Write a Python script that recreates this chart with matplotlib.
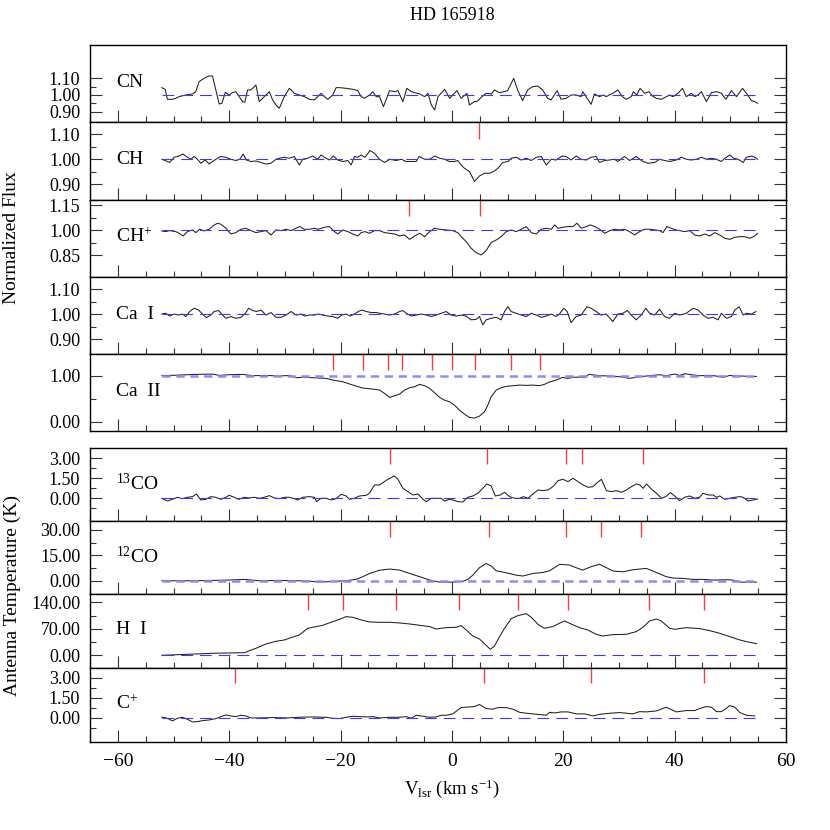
import matplotlib
matplotlib.use('Agg')
import matplotlib.pyplot as plt
from matplotlib.ticker import FixedLocator, FormatStrFormatter, MultipleLocator

plt.rcParams['font.family'] = ['Liberation Serif', 'DejaVu Serif']
plt.rcParams['mathtext.fontset'] = 'custom'
plt.rcParams['mathtext.rm'] = 'Liberation Serif'
plt.rcParams['mathtext.it'] = 'Liberation Serif:italic'
plt.rcParams['lines.scale_dashes'] = False

# ---- data (velocity in km/s) ----
cn_v = [-52.1, -51.5, -51.1, -50.2, -49.6, -49.0, -47.8, -46.6, -46.0, -45.4, -44.8, -44.2, -43.6, -43.0,
        -42.4, -41.8, -41.3, -40.7, -40.0, -39.4, -38.8, -38.2, -37.6, -37.2, -36.7, -36.1, -35.2, -34.6,
        -33.7, -32.8, -32.2, -31.6, -31.0, -30.1, -29.2, -28.3, -27.4, -26.5, -25.6, -24.7, -24.1, -23.5,
        -22.9, -22.3, -21.4, -20.8, -20.2, -19.0, -17.8, -16.9, -16.3, -15.7, -14.8, -14.2, -13.6, -13.0,
        -12.3, -11.2, -10.3, -9.7, -8.8, -8.1, -7.3, -5.8, -4.9, -4.3, -3.7, -3.1, -2.5, -1.3, -0.4, 0.15,
        0.9, 1.65, 2.7, 3.15, 4.05, 4.65, 5.25, 6.15, 7.05, 7.65, 8.55, 9.4, 10.0, 11.1, 11.8, 12.7, 13.6,
        14.5, 15.4, 16.3, 17.2, 17.8, 18.9, 19.6, 20.5, 21.4, 22.3, 23.2, 23.5, 24.4, 25.0, 25.6, 26.5,
        27.2, 27.7, 28.9, 29.8, 30.6, 31.3, 32.2, 32.6, 33.2, 33.8, 34.6, 35.4, 36.0, 36.7, 37.6, 38.5,
        39.1, 39.7, 40.6, 41.4, 42.1, 43.0, 43.6, 44.2, 44.8, 45.7, 46.6, 47.5, 48.4, 49.2, 50.2, 51.1,
        52.2, 52.9, 53.8, 54.4, 54.9]
cn_f = [1.044, 1.034, 0.974, 0.974, 0.98, 0.99, 1.0, 1.006, 1.02, 1.08, 1.094, 1.106, 1.114, 1.114,
        1.03, 0.946, 0.95, 1.016, 1.0, 1.014, 1.02, 0.99, 0.96, 0.956, 1.03, 1.03, 1.06, 0.96,
        0.99, 1.02, 0.97, 0.94, 0.92, 0.99, 1.04, 1.01, 1.0, 0.99, 0.974, 0.97, 0.99, 1.01,
        0.99, 0.974, 1.0, 1.044, 1.044, 1.04, 1.034, 1.026, 0.99, 0.98, 1.0, 1.02, 0.99, 0.99,
        0.93, 1.026, 1.02, 1.026, 0.96, 1.04, 1.02, 1.006, 0.99, 1.01, 0.94, 0.91, 0.99, 1.034, 0.98, 1.0,
        1.026, 0.98, 1.01, 0.94, 0.96, 0.964, 0.986, 1.01, 1.006, 1.03, 1.014, 1.02, 1.026, 1.10, 1.03, 0.966, 1.03,
        1.05, 1.054, 1.03, 0.98, 0.97, 1.026, 0.974, 0.98, 1.0, 1.0, 0.99, 1.02, 0.974, 0.944, 1.006, 0.99,
        1.0, 0.99, 1.01, 1.03, 0.99, 0.974, 0.99, 1.02, 1.0, 1.04, 1.01, 1.02, 0.994, 0.98, 0.974, 0.99,
        1.0, 0.99, 1.01, 1.04, 0.99, 1.01, 0.99, 1.0, 1.02, 0.96, 1.014, 1.02, 1.01, 0.974, 1.026, 0.99,
        1.04, 1.01, 0.966, 0.96, 0.95]

ch_v = [-52.1, -51.3, -50.7, -49.9, -49.0, -48.3, -47.7, -46.9, -46.3, -45.7, -45.1, -44.3, -43.6, -43.0,
        -42.1, -41.5, -40.6, -39.7, -38.8, -38.1, -37.5, -36.9, -36.1, -35.2, -34.3, -33.4, -32.5, -31.6,
        -31.0, -30.1, -29.2, -28.3, -27.4, -26.8, -25.9, -25.0, -24.1, -23.5, -22.6, -22.0, -21.3, -20.5,
        -19.6, -18.7, -18.1, -17.5, -16.9, -16.3, -15.6, -14.7, -13.9, -13.0, -12.1, -11.2, -10.0, -9.1,
        -8.2, -7.3, -6.4, -5.9, -4.9, -4.0, -3.1, -2.2, -1.3, -0.45, 0.45, 1.05, 1.65, 2.25, 3.15, 4.05,
        4.95, 5.85, 6.75, 7.65, 8.25, 9.15, 10.05, 10.65, 11.55, 12.45, 13.35, 14.25, 15.15, 16.05, 16.95,
        17.85, 18.7, 19.8, 20.5, 21.4, 22.3, 23.2, 24.1, 25.0, 25.9, 26.5, 27.4, 28.3, 29.2, 29.8, 31.0,
        31.9, 33.1, 34.3, 35.2, 36.4, 37.3, 38.2, 39.1, 40.3, 41.2, 42.1, 43.0, 43.9, 44.8, 45.7, 46.6,
        47.5, 48.4, 49.0, 49.9, 50.6, 51.4, 52.3, 52.9, 53.8, 54.4, 54.9]
ch_f = [1.0, 0.993, 0.987, 1.008, 1.013, 1.021, 1.011, 1.0, 1.011, 1.0, 0.984, 0.997, 0.981, 0.991,
        1.004, 1.011, 1.008, 1.0, 0.995, 1.0, 1.021, 0.997, 0.991, 0.993, 0.987, 0.981, 0.984, 1.0,
        1.004, 1.008, 1.004, 1.011, 0.977, 1.0, 1.004, 1.013, 1.0, 1.017, 1.004, 0.997, 1.013, 0.997,
        0.991, 0.995, 0.977, 1.011, 1.008, 1.017, 1.008, 1.035, 1.024, 1.0, 0.987, 1.0, 0.995, 1.0,
        0.991, 0.991, 0.991, 1.011, 1.0, 1.0, 1.013, 1.004, 1.0, 0.991, 0.991, 0.995, 0.977, 0.964, 0.951, 0.911,
        0.933, 0.944, 0.944, 0.953, 0.964, 0.987, 0.991, 1.004, 1.008, 0.997, 1.004, 0.995, 1.008, 1.011, 0.977,
        1.0, 0.997, 1.013, 1.011, 0.997, 1.013, 1.0, 0.997, 1.008, 1.011, 0.987, 0.995, 0.997, 1.0, 0.991, 1.011,
        0.995, 1.011, 0.991, 0.984, 0.987, 1.0, 0.995, 0.991, 0.997, 1.008, 1.0, 0.997, 1.0, 1.008, 1.0, 1.004,
        1.0, 0.991, 1.004, 1.017, 1.004, 1.0, 0.987, 1.008, 1.013, 1.008, 1.0]

chp_v = [-52.1, -51.4, -50.7, -49.6, -49.0, -48.3, -47.5, -46.6, -46.0, -45.3, -44.5, -43.6, -42.9, -42.1,
         -41.5, -40.6, -39.7, -38.8, -37.9, -37.0, -36.1, -35.2, -34.3, -33.4, -32.5, -31.6, -30.7, -29.8,
         -28.9, -28.0, -27.3, -26.5, -25.6, -24.7, -24.0, -22.9, -22.0, -21.1, -20.5, -19.6, -18.7, -17.8,
         -16.9, -16.3, -15.6, -14.8, -13.9, -13.0, -12.1, -11.2, -10.3, -9.4, -8.5, -7.6, -6.7, -5.8, -4.9,
         -4.0, -3.1, -2.2, -1.05, 0.15, 1.05, 1.65, 2.55, 3.45, 4.35, 5.25, 6.15, 7.05, 7.95, 8.85, 9.75,
         10.65, 11.55, 12.45, 13.35, 14.25, 15.15, 16.05, 16.95, 17.85, 18.45, 19.05, 19.95, 20.85, 21.75,
         22.45, 23.25, 24.15, 24.85, 25.65, 26.55, 27.45, 28.35, 29.25, 30.1, 31.0, 31.9, 32.8, 33.7, 34.6,
         35.5, 36.4, 37.3, 37.9, 38.6, 39.4, 40.2, 40.9, 41.8, 42.7, 43.6, 44.5, 45.4, 46.3, 47.2, 48.1,
         49.0, 49.9, 50.8, 51.7, 52.6, 53.5, 54.4, 54.9]
chp_f = [0.996, 0.992, 0.998, 0.992, 0.982, 0.966, 0.992, 1.002, 0.986, 1.006, 0.996, 1.006, 1.026, 1.042,
         1.036, 1.012, 0.978, 0.986, 1.006, 1.012, 0.998, 0.986, 0.992, 0.998, 0.972, 1.002, 0.998, 1.006,
         0.998, 1.012, 1.022, 1.006, 1.006, 1.012, 1.006, 1.018, 1.022, 0.992, 0.978, 1.002, 0.992, 0.978,
         0.966, 0.986, 0.992, 0.982, 0.998, 0.998, 0.986, 0.982, 0.978, 0.966, 0.972, 0.946, 0.966, 0.982, 0.962,
         0.992, 1.012, 1.006, 1.002, 0.998, 0.986, 0.962, 0.933, 0.893, 0.867, 0.853, 0.879, 0.927, 0.942, 0.962, 0.992,
         1.002, 0.992, 1.006, 1.022, 0.986, 0.978, 1.006, 1.012, 1.006, 1.032, 1.012, 1.018, 1.022, 1.022,
         1.042, 1.012, 1.022, 1.032, 1.022, 1.006, 0.982, 0.998, 1.006, 1.002, 1.006, 0.992, 0.972, 0.992, 1.006,
         1.006, 1.002, 0.998, 0.986, 1.022, 1.012, 1.002, 0.998, 0.992, 0.998, 0.972, 0.966, 0.978, 0.966, 0.986, 0.972,
         0.952, 0.946, 0.958, 0.962, 0.962, 0.952, 0.966, 0.982]

cai_v = [-52.1, -51.4, -50.7, -49.9, -49.1, -48.4, -47.8, -47.1, -46.3, -45.5, -44.8, -44.1, -43.3, -42.7,
         -41.9, -41.2, -40.6, -39.7, -38.8, -37.9, -37.1, -36.5, -35.8, -35.1, -34.3, -33.4, -32.5, -31.6,
         -30.7, -29.8, -28.9, -28.0, -27.1, -26.4, -25.6, -24.7, -24.0, -23.2, -22.3, -21.4, -20.5, -19.8,
         -19.0, -18.3, -17.5, -16.8, -16.2, -15.4, -14.5, -13.6, -13.0, -12.1, -11.2, -10.3, -9.4, -8.8,
         -8.2, -7.3, -6.4, -5.5, -4.6, -3.7, -2.8, -1.9, -1.05, -0.15, 0.75, 1.65, 2.55, 3.45, 4.35, 4.95,
         5.55, 6.15, 7.05, 7.95, 8.85, 9.45, 10.05, 10.65, 11.55, 12.45, 13.35, 14.25, 15.15, 16.05, 16.95,
         17.85, 18.7, 19.3, 20.1, 20.7, 21.4, 22.3, 23.2, 24.25, 25.0, 25.9, 26.8, 27.7, 28.9, 29.8, 30.7,
         31.5, 32.2, 33.1, 34.0, 34.8, 35.5, 36.4, 37.3, 38.2, 39.1, 40.0, 40.9, 42.1, 43.3, 44.2, 45.1,
         46.0, 46.9, 47.8, 48.4, 49.3, 50.2, 50.8, 51.6, 52.3, 52.9, 53.8, 54.6]
cai_f = [1.001, 1.004, 0.993, 1.001, 0.997, 1.001, 0.991, 1.011, 1.024, 1.017, 1.001, 0.987, 0.997, 1.011,
         1.015, 0.997, 0.984, 0.991, 0.984, 0.988, 1.004, 1.024, 1.015, 1.011, 1.017, 0.997, 1.007, 0.988,
         0.988, 0.997, 1.011, 0.997, 1.001, 0.993, 0.997, 0.997, 1.001, 0.997, 0.993, 0.991, 0.984, 0.997,
         1.001, 0.993, 1.001, 1.011, 1.017, 1.011, 1.007, 1.007, 1.004, 1.001, 0.997, 1.001, 1.011, 1.015,
         1.004, 0.993, 0.997, 1.001, 0.997, 0.991, 0.997, 1.004, 1.011, 0.997, 0.993, 0.997, 0.993, 0.978, 0.980, 0.991,
         0.958, 0.978, 0.984, 0.988, 0.978, 1.011, 1.030, 1.011, 1.004, 0.997, 0.991, 1.004, 0.997, 0.988, 0.993,
         1.001, 0.991, 1.001, 1.024, 1.011, 0.967, 0.991, 0.997, 1.030, 1.024, 1.011, 0.997, 1.001, 0.971, 1.001, 1.004,
         1.015, 0.997, 0.978, 0.997, 1.024, 1.004, 0.997, 1.020, 0.991, 0.984, 1.004, 0.997, 1.004, 1.024, 1.017, 0.997,
         0.984, 0.988, 0.978, 1.004, 0.984, 0.991, 1.017, 1.030, 0.997, 1.004, 1.001, 1.011]

caii_v = [-52.1, -49.0, -46.0, -43.0, -41.8, -40.0, -37.6, -35.8, -33.4, -31.0, -29.2, -28.0, -26.8, -25.0,
          -22.6, -21.4, -19.6, -17.8, -16.0, -14.2, -13.0, -12.1, -11.2, -10.3, -9.4, -8.5, -7.6, -6.7, -5.8,
          -4.9, -4.0, -3.1, -2.2, -1.35, -0.45, 0.45, 1.35, 2.25, 3.15, 4.05, 4.95, 5.85, 6.45, 7.05, 7.95,
          8.85, 9.75, 10.95, 12.15, 13.35, 14.55, 15.75, 16.6, 17.5, 18.7, 19.9, 20.8, 21.7, 22.9, 23.8, 24.6,
          25.6, 26.8, 28.3, 30.1, 31.9, 33.7, 35.5, 37.3, 38.5, 40.0, 40.9, 41.8, 43.0, 44.5, 46.3, 47.5,
          48.7, 49.9, 51.1, 52.3, 53.5, 54.7]
caii_f = [1.0, 1.014, 1.029, 1.036, 1.007, 1.022, 1.029, 1.0, 1.007, 0.993, 1.007, 0.957, 0.964, 0.957,
          0.942, 0.906, 0.870, 0.797, 0.732, 0.710, 0.688, 0.616, 0.529, 0.565, 0.601, 0.688, 0.739, 0.761, 0.812,
          0.783, 0.725, 0.630, 0.529, 0.471, 0.435, 0.362, 0.254, 0.167, 0.094, 0.080, 0.123, 0.217, 0.362, 0.543, 0.688,
          0.739, 0.768, 0.783, 0.797, 0.790, 0.797, 0.783, 0.812, 0.862, 0.906, 0.964, 0.942, 0.964, 0.971, 0.957, 1.029,
          1.014, 1.0, 0.993, 0.978, 0.942, 0.978, 1.0, 1.022, 1.0, 1.036, 1.007, 1.043, 1.022, 1.0, 1.007, 0.993,
          0.964, 1.007, 0.993, 0.993, 0.978, 0.986]

co13_v = [-52.1, -51.1, -50.2, -49.3, -48.4, -47.5, -46.6, -45.9, -45.1, -44.2, -43.3, -42.4, -41.5, -40.6,
          -40.0, -39.1, -38.3, -37.3, -36.4, -35.5, -34.6, -33.7, -32.8, -31.9, -31.0, -30.1, -29.2, -28.3,
          -27.7, -26.8, -25.6, -24.7, -24.3, -23.5, -22.6, -21.7, -20.8, -19.9, -19.0, -18.4, -17.5, -16.6,
          -15.4, -14.8, -13.9, -13.0, -12.4, -11.5, -10.3, -9.7, -8.8, -7.9, -7.0, -6.1, -5.2, -4.6, -3.7,
          -2.8, -1.95, -1.35, -0.45, 0.15, 1.05, 1.95, 2.85, 3.75, 4.65, 5.55, 6.25, 7.05, 7.8, 8.7, 9.45,
          10.35, 11.25, 12.15, 12.85, 13.65, 14.55, 15.45, 16.35, 17.25, 18.15, 19.05, 19.95, 20.85, 21.75,
          22.65, 23.55, 24.45, 25.35, 25.95, 26.85, 27.75, 28.65, 29.55, 30.45, 31.35, 32.25, 33.15, 33.75,
          34.35, 34.95, 35.85, 36.75, 37.65, 38.4, 39.25, 40.0, 40.9, 41.8, 42.7, 43.6, 44.5, 45.1, 46.0,
          46.9, 47.5, 48.1, 49.0, 49.9, 50.8, 51.7, 52.3, 53.2, 54.1, 54.9]
co13_t = [0.0, -0.2, -0.075, 0.075, -0.025, 0.075, 0.125, 0.325, -0.125, -0.075, 0.125, 0.075, -0.075, 0.075,
          0.225, 0.075, -0.075, 0.075, 0.025, 0.075, 0.0, 0.075, 0.2, 0.025, -0.025, 0.075, 0.075, -0.025,
          -0.125, 0.075, 0.125, 0.075, -0.25, 0.0, 0.0, -0.125, -0.025, 0.3, 0.175, -0.075, 0.0, 0.175,
          0.225, 0.375, 1.0, 1.0, 1.175, 1.425, 1.675, 1.425, 0.75, 0.5, 0.25, 0.325, -0.075, -0.25, 0.0,
          0.0, 0.0, -0.2, -0.075, -0.125, -0.25, -0.275, 0.075, 0.175, 0.375, 0.75, 1.075, 0.925, 0.175, 0.25, 0.45,
          0.125, 0.0, 0.0, 0.125, 0.0, 0.325, 0.625, 0.575, 0.625, 0.875, 1.325, 1.425, 1.25, 1.5,
          1.25, 1.0, 0.825, 0.875, 1.125, 1.425, 0.575, 0.5, 0.575, 0.45, 0.625, 0.875, 1.075, 1.0,
          0.75, 1.075, 0.675, 0.375, 0.0, 0.125, 0.425, 0.175, -0.175, 0.075, 0.175, 0.0, 0.075, 0.375, 0.25,
          0.25, 0.075, 0.175, -0.075, 0.0, 0.075, 0.125, 0.075, -0.2, -0.125, -0.05]

co12_v = [-52.1, -49.0, -46.0, -43.0, -40.0, -37.3, -34.6, -31.0, -28.0, -25.6, -23.8, -21.4, -19.0, -17.2,
          -16.0, -14.8, -13.0, -11.2, -9.4, -7.6, -5.8, -4.0, -2.25, -0.15, 1.95, 2.85, 3.75, 4.95, 6.15, 7.05,
          7.95, 9.75, 11.55, 12.75, 14.55, 16.35, 17.55, 19.35, 21.1, 22.3, 23.5, 25.0, 26.5, 27.75, 28.95,
          30.75, 32.5, 34.9, 36.7, 38.5, 39.7, 41.5, 43.3, 45.1, 46.9, 49.3, 50.5, 51.7, 53.5, 54.7]
co12_t = [0.0, 0.0, 0.0, 0.2, 0.4, 0.8, 0.0, 0.2, 0.0, -0.2, -0.8, -0.4, 0.0, 0.8,
          2.4, 4.3, 6.2, 6.9, 6.3, 4.3, 2.4, 0.4, -0.8, -0.8, -0.4, 0.8, 3.3, 7.7, 10.2, 8.7,
          5.9, 4.7, 3.3, 2.8, 4.3, 4.9, 5.9, 9.7, 9.3, 7.7, 6.3, 8.3, 9.7, 7.7, 5.7,
          5.3, 6.5, 7.3, 4.9, 2.4, 1.6, 1.4, 0.8, 0.8, 0.4, 0.6, 0.4, -0.8, -0.8, -0.8]

hi_v = [-52.1, -49.0, -46.0, -43.0, -40.0, -37.3, -35.2, -33.4, -31.6, -30.1, -28.9, -27.4, -25.9, -25.0,
        -23.2, -21.4, -20.2, -19.0, -17.8, -16.3, -14.8, -13.0, -11.2, -9.4, -7.6, -5.8, -4.0, -2.85, -1.05,
        0.75, 1.65, 2.55, 3.75, 4.95, 6.0, 6.9, 7.65, 8.55, 9.45, 10.65, 11.85, 13.35, 14.25, 15.45, 16.6,
        18.1, 19.3, 20.2, 21.4, 22.9, 24.4, 25.9, 27.1, 28.9, 31.3, 33.1, 34.3, 35.5, 36.7, 37.6, 39.1,
        40.0, 42.1, 44.5, 46.3, 48.1, 49.9, 51.7, 52.9, 54.7]
hi_t = [0.0, 1.8, 3.5, 5.3, 6.2, 7.0, 18.5, 29.9, 37.0, 40.5, 46.6, 53.7, 71.3, 73.9,
        79.2, 88.9, 95.0, 102.1, 100.3, 93.3, 88.0, 87.0, 87.1, 85.4, 82.7, 79.2, 75.7, 69.5, 73.0,
        73.9, 78.3, 66.9, 51.0, 43.1, 28.2, 15.8, 24.6, 49.3, 71.3, 96.8, 104.7, 110.0, 100.3, 81.8, 71.3,
        75.7, 84.5, 90.6, 82.7, 73.0, 66.9, 55.4, 51.0, 54.6, 55.4, 62.5, 73.9, 90.6, 95.9, 90.6, 71.3,
        68.6, 73.0, 70.4, 65.1, 58.1, 49.3, 40.5, 36.1, 30.8]

cp_v = [-52.1, -51.1, -50.2, -49.3, -48.4, -47.5, -46.6, -45.7, -44.8, -43.6, -42.4, -41.5, -40.6, -39.7,
        -38.8, -37.9, -37.0, -36.1, -34.6, -32.2, -29.8, -27.4, -25.0, -22.6, -21.4, -20.2, -19.0, -17.8,
        -16.6, -15.4, -14.2, -13.0, -11.2, -9.4, -8.2, -7.3, -6.4, -5.2, -4.0, -2.85, -1.95, -1.05, 0.15,
        1.65, 3.15, 4.05, 4.95, 6.15, 7.35, 8.25, 9.75, 10.95, 12.15, 13.35, 14.55, 15.75, 16.95, 17.55,
        18.45, 19.65, 20.85, 22.35, 23.85, 25.35, 26.55, 28.35, 30.15, 31.35, 32.5, 33.7, 34.9, 36.7, 38.5,
        40.3, 42.1, 43.6, 44.5, 45.7, 46.6, 47.5, 48.4, 49.3, 49.9, 50.8, 51.7, 52.9, 54.4]
cp_t = [0.05, -0.025, -0.22, -0.025, 0.05, -0.1, -0.3, -0.27, -0.2, -0.15, -0.05, 0.1, 0.22, 0.15,
        0.1, 0.2, 0.15, 0.0, 0.0, 0.025, 0.0, 0.05, 0.075, 0.05, -0.025, -0.05, 0.05, 0.125,
        0.1, 0.075, 0.1, 0.0, 0.05, 0.05, 0.1, -0.025, 0.2, 0.125, 0.05, 0.075, 0.2, 0.2, 0.3,
        0.77, 0.82, 0.85, 1.0, 0.7, 0.65, 0.77, 0.77, 0.65, 0.42, 0.35, 0.3, 0.25, 0.2, 0.42,
        0.37, 0.45, 0.45, 0.3, 0.3, 0.15, 0.27, 0.35, 0.4, 0.35, 0.3, 0.47, 0.45, 0.52, 0.8,
        0.45, 0.55, 0.55, 0.7, 0.85, 0.8, 0.47, 0.47, 0.72, 0.92, 0.8, 0.4, 0.2, 0.15]

# component velocities (red markers)
ch_comp = [4.8]
chp_comp = [-7.7, 5.0]
caii_comp = [-21.3, -16.0, -11.4, -9.0, -3.6, 0.0, 4.1, 10.6, 15.9]
co13_comp = [-11.1, 6.3, 20.5, 23.3, 34.3]
co12_comp = [-11.1, 6.7, 20.5, 26.7, 34.0]
hi_comp = [-25.9, -19.6, -10.1, 1.2, 11.8, 20.9, 35.4, 45.3]
cp_comp = [-39.0, 5.7, 25.0, 45.3]

panels = [
    ('CN', cn_v, cn_f, 1.0, (0.836, 1.30), [0.9, 1.0, 1.1], [0.95, 1.05], [], False),
    ('CH', ch_v, ch_f, 1.0, (0.838, 1.148), [0.9, 1.0, 1.1], [0.95, 1.05], ch_comp, False),
    (r'CH$^{+}$', chp_v, chp_f, 1.0, (0.72, 1.182), [0.85, 1.0, 1.15], [0.925, 1.075], chp_comp, False),
    ('Ca  I', cai_v, cai_f, 1.0, (0.841, 1.147), [0.9, 1.0, 1.1], [0.95, 1.05], [], False),
    ('Ca  II', caii_v, caii_f, 1.0, (-0.20, 1.465), [0.0, 1.0], [0.5], caii_comp, True),
    (r'$^{13}$CO', co13_v, co13_t, 0.0, (-1.725, 3.75), [0.0, 1.5, 3.0], [-0.75, 0.75, 2.25], co13_comp, False),
    (r'$^{12}$CO', co12_v, co12_t, 0.0, (-8.0, 35.1), [0.0, 15.0, 30.0], [7.5, 22.5], co12_comp, True),
    ('H  I', hi_v, hi_t, 0.0, (-33.5, 161.0), [0.0, 70.0, 140.0], [35.0, 105.0], hi_comp, False),
    (r'C$^{+}$', cp_v, cp_t, 0.0, (-1.77, 3.72), [0.0, 1.5, 3.0], [-0.75, 0.75, 2.25], cp_comp, False),
]

# panel edges in pixels from the top of the 830 px figure
tops = [45, 122.3, 199.7, 277.3, 354.3, 448.3, 521.3, 594.3, 668]
bots = [122.3, 199.7, 277.3, 354.3, 431, 521.3, 594.3, 668, 741.7]
W = 830.0
left_px, right_px = 90, 786

fig = plt.figure(figsize=(8.3, 8.3), dpi=100)

for i, (name, v, y, ref, ylim, majors, minors, comps, light) in enumerate(panels):
    ax = fig.add_axes([left_px / W, 1 - bots[i] / W, (right_px - left_px) / W, (bots[i] - tops[i]) / W])
    ax.plot(v, y, color='#202020', lw=0.75)
    if light:
        ax.hlines(ref, v[0], v[-1], colors='#8c8cff', lw=1.8, linestyles=(0, (6, 4)))
    else:
        ax.hlines(ref, v[0], v[-1], colors='#3a3aff', lw=0.8, linestyles=(0, (8.5, 5)))
    if comps:
        ax.vlines(comps, 0.79, 1.0, colors='#ff3b3b', lw=1.0, transform=ax.get_xaxis_transform())
    ax.set_xlim(-65, 60)
    ax.set_ylim(*ylim)
    ax.xaxis.set_major_locator(MultipleLocator(20))
    ax.xaxis.set_minor_locator(MultipleLocator(5))
    ax.yaxis.set_major_locator(FixedLocator(majors))
    ax.yaxis.set_minor_locator(FixedLocator(minors))
    ax.yaxis.set_major_formatter(FormatStrFormatter('%.2f'))
    ax.tick_params(which='both', direction='in', top=False, right=True, width=0.8, color='#333333')
    ax.tick_params(which='major', length=8.5, labelsize=13, pad=7)
    ax.tick_params(which='minor', length=4.5)
    ax.tick_params(axis='x', which='major', pad=8, labelsize=14)
    if i != len(panels) - 1:
        ax.tick_params(labelbottom=False)
    for s in ax.spines.values():
        s.set_linewidth(1.0)
    ax.text(0.038, 0.52, name, transform=ax.transAxes, fontsize=14, va='center', ha='left')

fig.text(452 / W, 1 - 15 / W, 'HD 165918', ha='center', va='center', fontsize=13)
fig.text(452 / W, 1 - 789 / W, r'V$_{\rm lsr}$ (km s$^{-1}$)', ha='center', va='center', fontsize=13.5)
fig.text(12 / W, 1 - 238 / W, 'Normalized Flux', rotation=90, ha='center', va='center', fontsize=14)
fig.text(12 / W, 1 - 595 / W, 'Antenna Temperature (K)', rotation=90, ha='center', va='center', fontsize=14)

fig.savefig('out.png', dpi=100)
